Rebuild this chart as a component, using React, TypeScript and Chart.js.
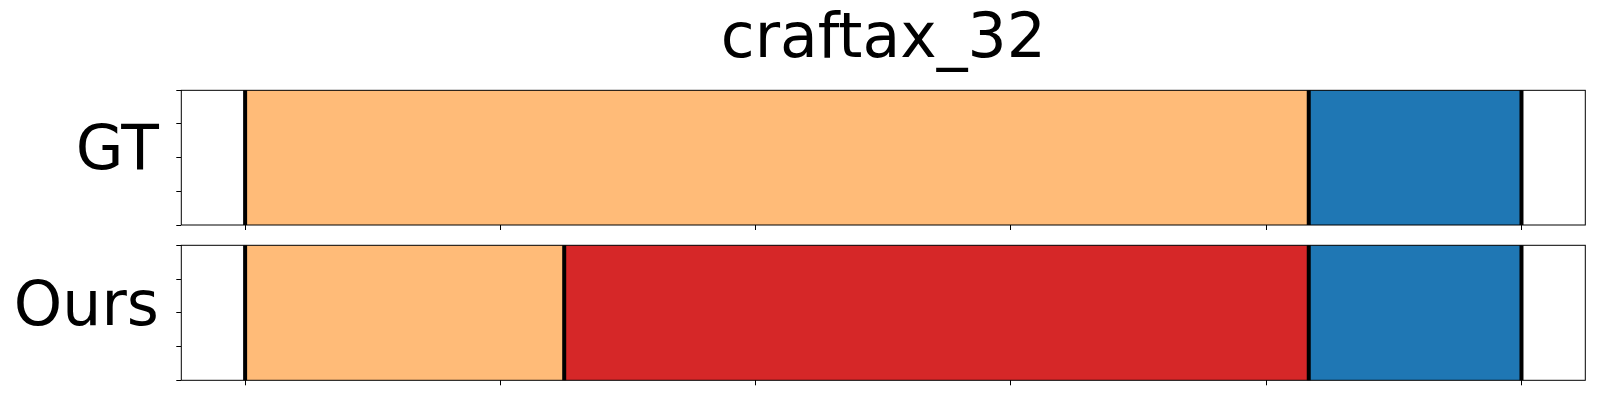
import React, { useEffect, useRef } from "react";
import { Chart, registerables } from "chart.js";

Chart.register(...registerables);

// ---- data ----
const TITLE = "craftax_32";
const X_MIN = 0;
const X_MAX = 60;
const X_TICKS = [0, 12, 24, 36, 48, 60];
const Y_TICKS = [0, 1, 2, 3, 4];

const GT_LABEL = "GT";
const GT_BOUNDS = [0, 50, 60];
const GT_CLASSES = [3, 0];

const OURS_LABEL = "Ours";
const OURS_BOUNDS = [0, 15, 50, 60];
const OURS_CLASSES = [3, 6, 0];

// ---- styles ----
const PALETTE: Record<number, string> = {
  0: "#1f77b4",
  3: "#ffbb78",
  6: "#d62728",
};
const FONT = "DejaVu Sans";
const FONT_SIZE = 61.6;

const framePlugin = {
  id: "frameAndBounds",
  afterDatasetsDraw(chart: any, _args: any, opts: any) {
    const { ctx, chartArea } = chart;
    const xs = chart.scales.x;
    ctx.save();
    ctx.strokeStyle = "#000";
    ctx.lineWidth = 1;
    ctx.strokeRect(chartArea.left, chartArea.top, chartArea.right - chartArea.left, chartArea.bottom - chartArea.top);
    ctx.lineWidth = 4;
    (opts.bounds || []).forEach((b: number) => {
      const px = xs.getPixelForValue(b);
      ctx.beginPath();
      ctx.moveTo(px, chartArea.top);
      ctx.lineTo(px, chartArea.bottom);
      ctx.stroke();
    });
    ctx.restore();
  },
};

const noPad = (s: any) => {
  s.paddingTop = 0;
  s.paddingBottom = 0;
  s.paddingLeft = 0;
  s.paddingRight = 0;
};

type PanelProps = {
  label: string;
  bounds: number[];
  classes: number[];
  title?: string;
  top: number;
  height: number;
  padding: { top: number; bottom: number; left: number; right: number };
};

function Panel({ label, bounds, classes, title, top, height, padding }: PanelProps) {
  const ref = useRef<HTMLCanvasElement>(null);
  useEffect(() => {
    if (!ref.current) return;
    const span = X_MAX - X_MIN;
    const datasets = classes.map((c, i) => ({
      label: `${label}-${i}`,
      data: [[bounds[i], bounds[i + 1]]],
      backgroundColor: PALETTE[c],
      borderWidth: 0,
      barPercentage: 1,
      categoryPercentage: 1,
      xAxisID: "x",
      yAxisID: "y",
    }));
    const chart = new Chart(ref.current, {
      type: "bar",
      data: { labels: [label], datasets: datasets as any },
      plugins: [framePlugin],
      options: {
        indexAxis: "y",
        responsive: false,
        animation: false,
        devicePixelRatio: 1,
        layout: { padding },
        scales: {
          x: {
            type: "linear",
            min: X_MIN - 0.05 * span,
            max: X_MAX + 0.05 * span,
            stacked: false,
            offset: false,
            afterBuildTicks: (s: any) => {
              s.ticks = X_TICKS.map((v) => ({ value: v }));
            },
            afterFit: noPad,
            ticks: { display: false },
            grid: { offset: false, drawOnChartArea: false, drawTicks: true, tickLength: 5, tickColor: "#000", tickWidth: 1 },
            border: { display: false },
          },
          yTicks: {
            type: "linear",
            position: "left",
            weight: 0,
            offset: false,
            min: Y_TICKS[0],
            max: Y_TICKS[Y_TICKS.length - 1],
            afterBuildTicks: (s: any) => {
              s.ticks = Y_TICKS.map((v) => ({ value: v }));
            },
            afterFit: noPad,
            ticks: { display: false, stepSize: 1 },
            grid: { offset: false, drawOnChartArea: false, drawTicks: true, tickLength: 5, tickColor: "#000", tickWidth: 1 },
            border: { display: false },
          },
          y: {
            type: "category",
            position: "left",
            weight: 1,
            stacked: true,
            grid: { display: false, drawTicks: false },
            border: { display: false },
            ticks: {
              font: { family: FONT, size: FONT_SIZE },
              color: "#000",
              padding: 17.5,
              labelOffset: -4.3,
            },
            afterFit: (s: any) => {
              s.width = 176.3;
              noPad(s);
            },
          },
        } as any,
        plugins: {
          legend: { display: false },
          tooltip: { enabled: false },
          title: {
            display: !!title,
            text: title || "",
            fullSize: false,
            color: "#000",
            font: { family: FONT, size: FONT_SIZE, weight: "normal" },
            padding: { top: 4, bottom: 12.4 },
          },
          frameAndBounds: { bounds },
        } as any,
      },
    });
    return () => chart.destroy();
  }, []);
  return (
    <canvas
      ref={ref}
      width={1600}
      height={height}
      style={{ position: "absolute", left: 0, top, width: 1600, height, display: "block" }}
    />
  );
}

export default function App() {
  return (
    <div style={{ position: "fixed", left: 0, top: 0, width: 1600, height: 400, background: "#fff" }}>
      <Panel
        label={GT_LABEL}
        bounds={GT_BOUNDS}
        classes={GT_CLASSES}
        title={TITLE}
        top={0}
        height={240}
        padding={{ top: 0, bottom: 10, left: 0, right: 14.7 }}
      />
      <Panel
        label={OURS_LABEL}
        bounds={OURS_BOUNDS}
        classes={OURS_CLASSES}
        top={240}
        height={160}
        padding={{ top: 5.3, bottom: 14.7, left: 0, right: 14.7 }}
      />
    </div>
  );
}
